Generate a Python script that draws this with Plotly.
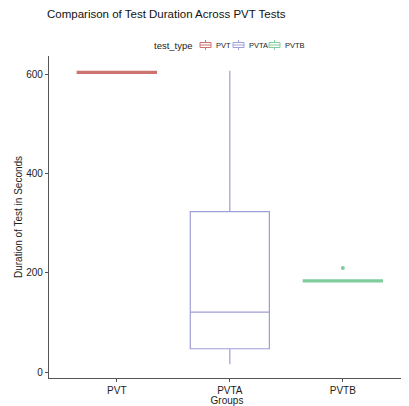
import plotly.graph_objects as go

groups = ["PVT", "PVTA", "PVTB"]
q1 = [603, 47, 182]
median = [605, 121, 184]
q3 = [607, 324, 186]
lower = [602, 16, 181]
upper = [608, 608, 187]
outlier_group = ["PVTB"]
outlier_value = [210]
colors = ["#cc7370", "#9e9ed8", "#80cc9c"]
legend_title = "test_type"
chart_title = "Comparison of Test Duration Across PVT Tests"

# figure sits at an 8px page offset; sizes compensate
W, H = 401, 398
L, R, T, B = 41, 4, 48, 28
PW, PH = W - L - R, H - T - B


def px(x_abs):
    return (x_abs - 8 - L) / PW


def py(y_abs):
    return (H - B - (y_abs - 8)) / PH


fig = go.Figure()
for i, g in enumerate(groups):
    fig.add_trace(go.Box(
        x=[g], q1=[q1[i]], median=[median[i]], q3=[q3[i]],
        lowerfence=[lower[i]], upperfence=[upper[i]],
        name=g, line=dict(color=colors[i], width=1.2),
        fillcolor="rgba(255,255,255,0)", width=0.7,
        whiskerwidth=0, boxpoints=False,
    ))
fig.add_trace(go.Scatter(
    x=outlier_group, y=outlier_value, mode="markers",
    marker=dict(color=colors[2], size=4), hoverinfo="skip",
))

shapes = []
annotations = [
    dict(text=chart_title, xref="paper", yref="paper", x=px(288), y=py(14),
         xanchor="right", yanchor="middle", showarrow=False, font=dict(size=11.5, color="#111")),
    dict(text=legend_title, xref="paper", yref="paper", x=px(195), y=py(45),
         xanchor="right", yanchor="middle", showarrow=False, font=dict(size=9.5, color="#222")),
]
key_x = [200, 233, 269]
for i, g in enumerate(groups):
    x0, x1 = key_x[i], key_x[i] + 11
    xc = (x0 + x1) / 2
    shapes.append(dict(type="line", xref="paper", yref="paper", x0=px(xc), x1=px(xc),
                       y0=py(40), y1=py(50), line=dict(color=colors[i], width=1)))
    shapes.append(dict(type="rect", xref="paper", yref="paper", x0=px(x0), x1=px(x1),
                       y0=py(42.5), y1=py(47.5), fillcolor="white",
                       line=dict(color=colors[i], width=1)))
    shapes.append(dict(type="line", xref="paper", yref="paper", x0=px(x0), x1=px(x1),
                       y0=py(45), y1=py(45), line=dict(color=colors[i], width=1)))
    annotations.append(dict(text=g, xref="paper", yref="paper", x=px(x1 + 2.5), y=py(45),
                            xanchor="left", yanchor="middle", showarrow=False,
                            font=dict(size=7.5, color="#222")))

fig.update_layout(
    width=W, height=H,
    margin=dict(l=L, r=R, t=T, b=B, autoexpand=False),
    paper_bgcolor="white", plot_bgcolor="white",
    font=dict(family="Liberation Sans, Arial, sans-serif", size=10, color="#222"),
    showlegend=False,
    shapes=shapes,
    annotations=annotations,
    xaxis=dict(categoryorder="array", categoryarray=groups, range=[-0.6, 2.55],
               showline=True, linecolor="#555", linewidth=1.2, ticks="outside", ticklen=3,
               tickcolor="#555", showgrid=False, zeroline=False, ticklabelstandoff=0,
               automargin=False,
               title=dict(text="Groups", standoff=0, font=dict(size=10))),
    yaxis=dict(range=[-12, 638], tickvals=[0, 200, 400, 600], showline=True,
               linecolor="#555", linewidth=1.2, ticks="outside", ticklen=3, tickcolor="#555",
               showgrid=False, zeroline=False, automargin=False,
               title=dict(text="Duration of Test in Seconds", standoff=1, font=dict(size=10))),
)
fig.write_html("out.html")
